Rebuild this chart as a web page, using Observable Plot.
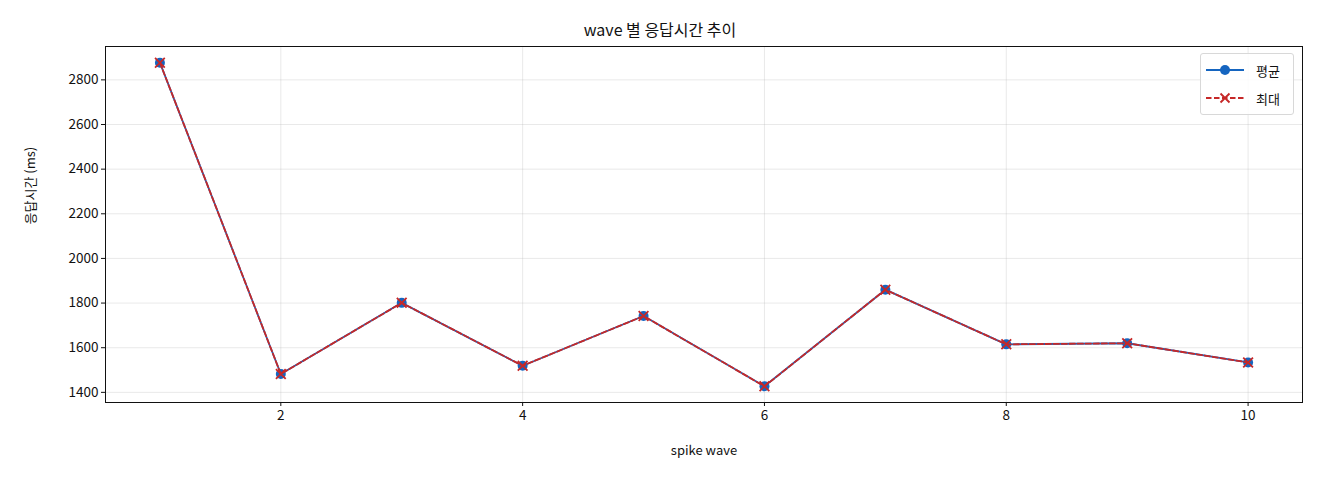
<!DOCTYPE html>
<html>
<head>
<meta charset="utf-8">
<script src="https://cdn.jsdelivr.net/npm/d3@7"></script>
<script src="https://cdn.jsdelivr.net/npm/@observablehq/plot@0.6"></script>
<style>
  body { margin: 0; background: #fff; font-family: "Noto Sans CJK KR", "Noto Sans", sans-serif; }
  #wrap { position: relative; width: 1320px; height: 480px; }
  #title { height: 46px; box-sizing: border-box; padding-top: 18px; text-align: center; font-size: 16px; line-height: 22px; color: #111; }
  #legend { position: absolute; left: 1200px; top: 53px; width: 94px; height: 62px; box-sizing: border-box; border: 1px solid #d8d8d8; border-radius: 3px; background: rgba(255,255,255,0.85); font-size: 13px; color: #111; }
  .item { position: absolute; left: 5px; height: 20px; display: flex; align-items: center; }
  .item span { margin-left: 12px; }
</style>
</head>
<body>
<div id="wrap">
  <div id="title">wave 별 응답시간 추이</div>
  <div id="chart"></div>
  <div id="legend">
    <div class="item" style="top:6px"><svg width="38" height="20"><line x1="0" y1="10" x2="38" y2="10" stroke="#1565c0" stroke-width="1.8"/><circle cx="19" cy="10" r="5" fill="#1565c0"/></svg><span>평균</span></div>
    <div class="item" style="top:34px"><svg width="38" height="20"><line x1="0" y1="10" x2="38" y2="10" stroke="#c62828" stroke-width="1.8" stroke-dasharray="5.5,2.5"/><path d="M14.5,5.5L23.5,14.5M23.5,5.5L14.5,14.5" stroke="#c62828" stroke-width="1.8"/></svg><span>최대</span></div>
  </div>
</div>
<script>
const waves = [1, 2, 3, 4, 5, 6, 7, 8, 9, 10];
const meanMs = [2877, 1482, 1801, 1519, 1742, 1427, 1860, 1615, 1620, 1534];
const maxMs = [2877, 1482, 1801, 1519, 1742, 1427, 1860, 1615, 1620, 1534];
const yTicks = [1400, 1600, 1800, 2000, 2200, 2400, 2600, 2800];
const xTicks = [2, 4, 6, 8, 10];

const meanData = waves.map((w, i) => ({ wave: w, ms: meanMs[i] }));
const maxData = waves.map((w, i) => ({ wave: w, ms: maxMs[i] }));

const blue = "#1565c0";
const red = "#c62828";

const chart = Plot.plot({
  width: 1320,
  height: 434,
  marginLeft: 105,
  marginRight: 18,
  marginTop: 0,
  marginBottom: 78,
  style: { fontFamily: "'Noto Sans CJK KR', 'Noto Sans', sans-serif", fontSize: "13px", color: "#111", background: "#fff" },
  x: { domain: [0.55, 10.45], ticks: xTicks, label: null },
  y: { domain: [1354.5, 2949.5], ticks: yTicks, label: null },
  marks: [
    Plot.gridX(xTicks, { stroke: "#b0b0b0", strokeOpacity: 0.35, strokeWidth: 0.8 }),
    Plot.gridY(yTicks, { stroke: "#b0b0b0", strokeOpacity: 0.35, strokeWidth: 0.8 }),
    Plot.axisX(xTicks, { tickSize: 4, tickPadding: 4, fontSize: 13.5, tickFormat: "d", label: null }),
    Plot.axisY(yTicks, { tickSize: 4, tickPadding: 3, fontSize: 13.5, tickFormat: "d", label: null }),
    Plot.text(["spike wave"], { frameAnchor: "bottom", dy: 52, fontSize: 13, fill: "#111" }),
    Plot.text(["응답시간 (ms)"], { frameAnchor: "left", dx: -75, rotate: -90, fontSize: 13, fill: "#111" }),
    Plot.line(meanData, { x: "wave", y: "ms", stroke: blue, strokeWidth: 1.8 }),
    Plot.dot(meanData, { x: "wave", y: "ms", fill: blue, r: 5 }),
    Plot.line(maxData, { x: "wave", y: "ms", stroke: red, strokeWidth: 1.8, strokeDasharray: "5.5,2.5" }),
    Plot.dot(maxData, { x: "wave", y: "ms", symbol: "times", stroke: red, strokeWidth: 1.8, r: 4.5 }),
    Plot.frame({ stroke: "#111", strokeWidth: 1 })
  ]
});
document.getElementById("chart").appendChild(chart);
</script>
</body>
</html>
